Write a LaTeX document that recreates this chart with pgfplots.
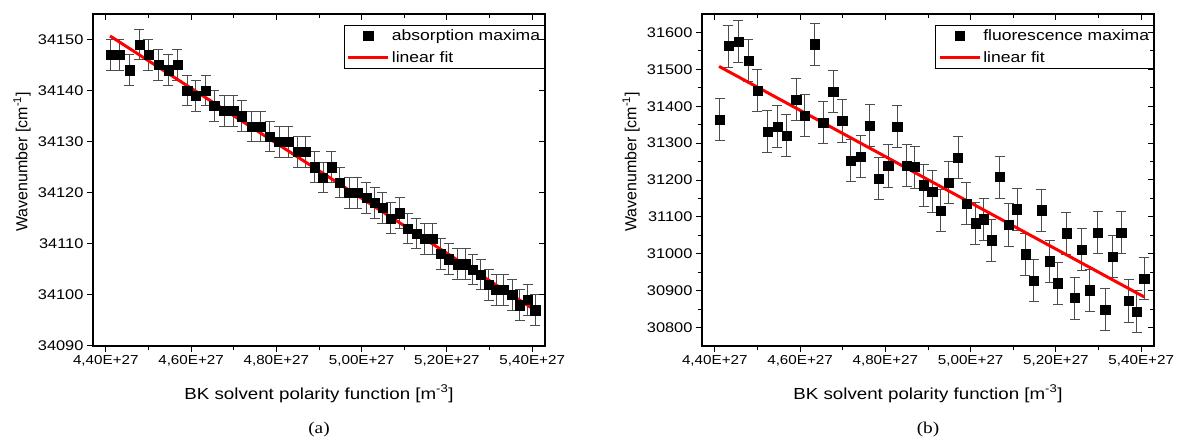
\documentclass[border=0pt]{standalone}
\usepackage{fontspec}
\setmainfont{Liberation Sans}[FakeStretch=1.17]
\newfontfamily\plainsans{Liberation Sans}
\newfontfamily\capfont{Liberation Serif}[FakeStretch=1.17]
\usepackage{pgfplots}
\pgfplotsset{compat=1.18}
\usepackage{pgfplotstable}

\pgfplotstableread{
x y
4.4117 34147
4.4318 34147
4.4553 34144
4.4787 34149
4.4998 34147
4.5232 34145
4.5466 34144
4.5677 34145
4.5911 34140
4.6115 34139
4.6349 34140
4.6543 34137
4.6778 34136
4.6988 34136
4.7192 34135
4.7419 34133
4.7637 34133
4.7848 34131
4.8066 34130
4.8276 34130
4.8496 34128
4.8691 34128
4.8902 34125
4.9096 34123
4.9293 34125
4.9487 34122
4.9705 34120
4.9902 34120
5.0112 34119
5.0307 34118
5.0487 34117
5.0681 34115
5.0892 34116
5.1087 34113
5.1283 34112
5.1478 34111
5.1658 34111
5.1852 34108
5.2047 34107
5.2244 34106
5.2438 34106
5.2609 34105
5.2789 34104
5.2984 34102
5.3157 34101
5.3335 34101
5.3532 34100
5.3703 34098
5.3897 34099
5.4070 34097
}\absdata

\pgfplotstableread{
x y
4.4117 31363
4.4318 31563
4.4553 31575
4.4787 31524
4.4998 31443
4.5232 31332
4.5466 31345
4.5677 31320
4.5911 31418
4.6115 31374
4.6349 31568
4.6543 31355
4.6778 31440
4.6988 31360
4.7192 31252
4.7419 31263
4.7637 31347
4.7848 31203
4.8066 31238
4.8276 31345
4.8496 31239
4.8691 31235
4.8902 31186
4.9096 31169
4.9293 31117
4.9487 31192
4.9705 31260
4.9902 31136
5.0112 31083
5.0307 31094
5.0487 31037
5.0681 31208
5.0892 31078
5.1087 31121
5.1283 30999
5.1478 30928
5.1658 31118
5.1852 30980
5.2047 30920
5.2244 31056
5.2438 30880
5.2609 31012
5.2789 30901
5.2984 31058
5.3157 30849
5.3335 30993
5.3532 31058
5.3703 30872
5.3897 30844
5.4070 30933
}\fludata

\pgfplotsset{
  common/.style={
    scale only axis, width=452pt, height=332pt,
    xmin=4.37, xmax=5.43,
    xtick={4.4,4.6,4.8,5.0,5.2,5.4},
    minor x tick num=1, minor y tick num=1,
    major tick length=6pt, minor tick length=4pt,
    axis line style={line width=1.3pt},
    every tick/.style={black, line width=1pt},
    scaled ticks=false,
  },
  mainaxis/.style={
    common,
    xtick pos=left, ytick pos=left, tick align=outside,
    xticklabels={{4,40E+27},{4,60E+27},{4,80E+27},{5,00E+27},{5,20E+27},{5,40E+27}},
    xticklabel style={font=\fontsize{13}{15}\selectfont},
    yticklabel style={font=\fontsize{14}{16}\selectfont},
    /pgf/number format/assume math mode=true,
    /pgf/number format/1000 sep={},
    xlabel={BK solvent polarity function [m\textsuperscript{-3}]},
    ylabel={\plainsans Wavenumber [cm\textsuperscript{-1}]},
    xlabel style={font=\fontsize{16}{19}\selectfont, at={(axis description cs:0.5,-0.16)}, anchor=base},
    ylabel style={font=\fontsize{16}{19}\selectfont, at={(axis description cs:-0.157,0.555)}, anchor=center},
    legend style={at={(1,0.967)}, anchor=north east, draw=black, line width=0.7pt,
      font=\fontsize{15}{17}\selectfont, inner sep=2.5pt, row sep=5pt},
    legend cell align=left,
  },
  overaxis/.style={
    common,
    xtick pos=right, ytick pos=right, tick align=inside,
    xticklabels={}, yticklabels={},
  },
  dataplot/.style={only marks, mark=square*, mark size=4.6pt, black,
    legend image code/.code={\draw[mark repeat=2,mark phase=2,##1] plot coordinates {(0pt,0pt) (20pt,0pt) (40pt,0pt)};},
  },
  fitplot/.style={red, line width=3pt, no marks,
    legend image code/.code={\draw[##1] plot coordinates {(0pt,0pt) (40pt,0pt)};},
  },
}

\begin{document}
\begin{tikzpicture}
\useasboundingbox (0pt,0pt) rectangle (1178pt,444pt);

% ---------- (a) ----------
\begin{axis}[mainaxis, at={(93pt,98pt)}, anchor=south west,
  ymin=34090, ymax=34155, ytick={34090,34100,...,34150}]
\addplot[dataplot, error bars/.cd, y dir=both, y fixed=3,
  error bar style={black!70, line width=1pt},
  error mark options={black!70, mark size=5pt, line width=1pt, rotate=90}] table {\absdata};
\addlegendentry{absorption maxima}
\addplot[fitplot] coordinates {(4.41,34150.7) (5.409,34096.9)};
\addlegendentry{linear fit}
\end{axis}
\begin{axis}[overaxis, at={(93pt,98pt)}, anchor=south west,
  ymin=34090, ymax=34155, ytick={34090,34100,...,34150}]
\end{axis}
\node[font=\capfont\fontsize{16.5}{18}\selectfont] at (319pt,14pt) {(a)};

% ---------- (b) ----------
\begin{axis}[mainaxis, at={(702pt,98pt)}, anchor=south west,
  ymin=30750, ymax=31650, ytick={30800,30900,...,31600}]
\addplot[dataplot, error bars/.cd, y dir=both, y fixed=57,
  error bar style={black!70, line width=1pt},
  error mark options={black!70, mark size=5pt, line width=1pt, rotate=90}] table {\fludata};
\addlegendentry{fluorescence maxima}
\addplot[fitplot] coordinates {(4.41,31508) (5.407,30883)};
\addlegendentry{linear fit}
\end{axis}
\begin{axis}[overaxis, at={(702pt,98pt)}, anchor=south west,
  ymin=30750, ymax=31650, ytick={30800,30900,...,31600}]
\end{axis}
\node[font=\capfont\fontsize{16.5}{18}\selectfont] at (928pt,14pt) {(b)};
\end{tikzpicture}
\end{document}
